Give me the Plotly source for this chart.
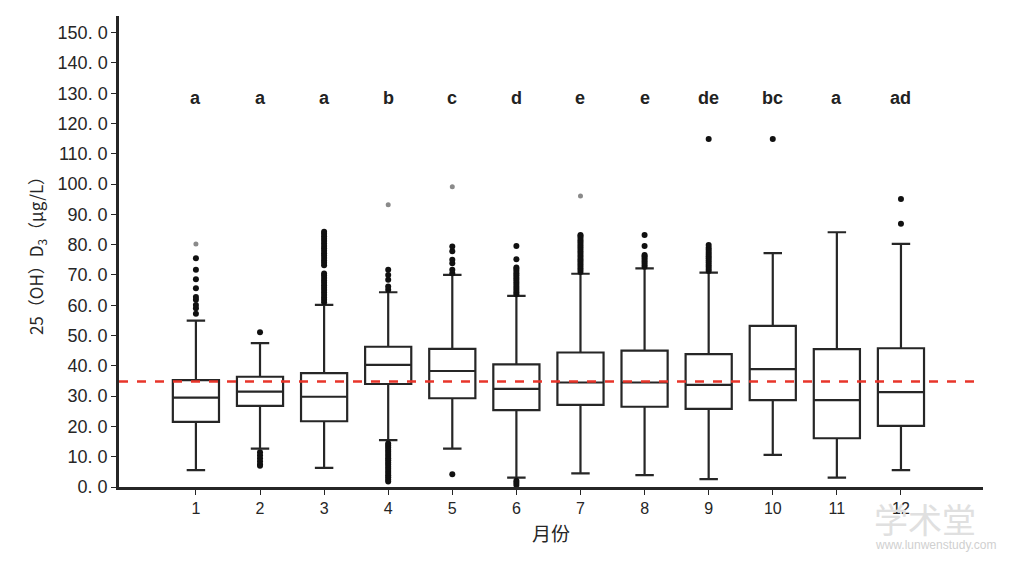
import plotly.graph_objects as go

months = [1, 2, 3, 4, 5, 6, 7, 8, 9, 10, 11, 12]
q1 = [21.5, 26.8, 21.7, 34.0, 29.3, 25.4, 27.1, 26.5, 25.8, 28.7, 16.1, 20.2]
median = [29.5, 31.5, 29.8, 40.3, 38.3, 32.4, 34.5, 34.5, 33.7, 38.9, 28.7, 31.3]
q3 = [35.3, 36.4, 37.6, 46.3, 45.6, 40.5, 44.4, 45.0, 43.9, 53.2, 45.5, 45.8]
lower_whisker = [5.6, 12.7, 6.3, 15.5, 12.7, 3.1, 4.5, 3.9, 2.6, 10.6, 3.1, 5.6]
upper_whisker = [54.9, 47.5, 60.1, 64.3, 70.0, 63.1, 70.4, 72.2, 70.8, 77.2, 84.1, 80.3]
letters = ["a", "a", "a", "b", "c", "d", "e", "e", "de", "bc", "a", "ad"]
reference_level = 34.8
letter_level = 128.5

outliers = {
    1: [57.2, 59.0, 60.1, 61.8, 62.7, 65.6, 68.6, 71.7, 75.5],
    2: [51.1, 11.5, 10.5, 9.5, 8.5, 7.5, 7.0],
    3: [61.0, 61.8, 62.6, 63.4, 64.2, 65.0, 65.8, 66.6, 67.4, 68.2, 69.0, 69.8, 70.5,
        73.2, 74.0, 74.8, 75.6, 76.4, 77.2, 78.0, 78.8, 79.6, 80.4, 81.2, 82.0, 82.8, 83.6, 84.3],
    4: [65.1, 66.2, 68.4, 70.0, 71.7,
        1.8, 2.5, 3.2, 3.9, 4.6, 5.3, 6.0, 6.7, 7.4, 8.1, 8.8, 9.5, 10.2, 10.9, 11.6, 12.3, 13.0, 13.7, 14.4],
    5: [70.6, 71.7, 73.9, 75.0, 77.8, 79.4, 4.2],
    6: [63.6, 64.3, 65.0, 65.7, 66.4, 67.1, 67.8, 68.5, 69.2, 69.9, 70.6, 71.3, 72.0, 72.5,
        75.2, 79.6, 0.7, 1.4, 2.1],
    7: [71.0, 71.7, 72.4, 73.1, 73.8, 74.5, 75.2, 75.9, 76.6, 77.3, 78.0, 78.7, 79.4, 80.1,
        80.8, 81.5, 82.2, 82.9, 83.2],
    8: [72.7, 73.4, 74.1, 74.8, 75.5, 76.2, 76.6, 79.6, 83.2],
    9: [71.3, 72.0, 72.7, 73.4, 74.1, 74.8, 75.5, 76.2, 76.9, 77.6, 78.3, 79.0, 79.9, 114.9],
    10: [114.9],
    11: [],
    12: [86.9, 95.1],
}
extreme_points = {1: [80.2], 4: [93.2], 5: [99.1], 7: [96.1]}

y_ticks = [0, 10, 20, 30, 40, 50, 60, 70, 80, 90, 100, 110, 120, 130, 140, 150]
y_tick_text = ["0. 0", "10. 0", "20. 0", "30. 0", "40. 0", "50. 0", "60. 0", "70. 0",
               "80. 0", "90. 0", "100. 0", "110. 0", "120. 0", "130. 0", "140. 0", "150. 0"]

FONT = "Liberation Sans Narrow, Arial Narrow, Liberation Sans, Arial, sans-serif"
INK = "#262626"

fig = go.Figure()

fig.add_trace(go.Box(
    x=months, q1=q1, median=median, q3=q3,
    lowerfence=lower_whisker, upperfence=upper_whisker,
    width=0.72, whiskerwidth=0.4,
    fillcolor="rgba(255,255,255,0)",
    line=dict(color=INK, width=2.2),
    boxpoints=False, hoverinfo="skip", showlegend=False,
))

ox, oy = [], []
for m in months:
    for v in outliers[m]:
        ox.append(m)
        oy.append(v)
fig.add_trace(go.Scatter(
    x=ox, y=oy, mode="markers",
    marker=dict(color="#111111", size=6),
    showlegend=False, hoverinfo="skip",
))

ex, ey = [], []
for m, vals in extreme_points.items():
    for v in vals:
        ex.append(m)
        ey.append(v)
fig.add_trace(go.Scatter(
    x=ex, y=ey, mode="markers",
    marker=dict(color="#8a8a8a", size=5),
    showlegend=False, hoverinfo="skip",
))

fig.add_shape(type="line", xref="paper", yref="y", x0=0, x1=1,
              y0=reference_level, y1=reference_level,
              line=dict(color="#e8352a", width=2.5, dash="dash"))

for m, t in zip(months, letters):
    fig.add_annotation(x=m, y=letter_level, text=t, showarrow=False,
                       font=dict(family="Liberation Sans, Arial, sans-serif", size=18,
                                 color="#222222", weight="bold"))

fig.add_annotation(xref="paper", yref="paper", x=0.933, y=-0.066, text="学术堂",
                   showarrow=False, xanchor="center", yanchor="middle",
                   font=dict(family="Noto Sans CJK SC", size=34, color="#e0e0e0"))
fig.add_annotation(xref="paper", yref="paper", x=0.946, y=-0.124, text="www.lunwenstudy.com",
                   showarrow=False, xanchor="center", yanchor="middle",
                   font=dict(family="Liberation Sans, Arial", size=12, color="#d0d0d0"))

fig.update_layout(
    width=996, height=548,
    paper_bgcolor="white", plot_bgcolor="white",
    margin=dict(l=111, r=21, t=8, b=69),
    font=dict(family=FONT, color=INK, size=14),
    xaxis=dict(
        range=[-0.2, 13.28], tickvals=months, ticktext=[str(m) for m in months],
        showline=True, linecolor=INK, linewidth=2.5, showgrid=False, zeroline=False,
        ticks="outside", ticklen=5, tickwidth=1.2, tickcolor=INK,
        tickfont=dict(size=16, family=FONT, color=INK),
        title=dict(text="月份", font=dict(family="Noto Sans CJK SC", size=19, color=INK), standoff=12),
    ),
    yaxis=dict(
        range=[0, 155.5], tickvals=y_ticks, ticktext=y_tick_text,
        showline=True, linecolor=INK, linewidth=2.5, showgrid=False, zeroline=False,
        ticks="outside", ticklen=5, tickwidth=1.2, tickcolor=INK,
        tickfont=dict(size=18, family=FONT, color=INK),
        title=dict(text="25（OH）D<sub>3</sub>（μg/L）",
                   font=dict(family="Noto Sans CJK SC", size=17, color=INK), standoff=10),
    ),
)

fig.write_html("out.html")
